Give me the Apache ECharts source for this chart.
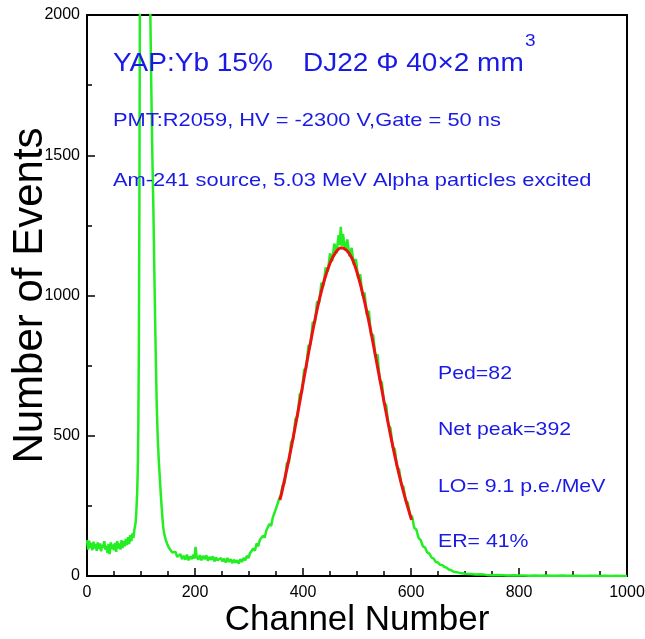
<!DOCTYPE html>
<html><head><meta charset="utf-8">
<script src="https://cdn.jsdelivr.net/npm/echarts@6/dist/echarts.min.js"></script>
<style>html,body{margin:0;padding:0;background:#fff}#c{width:645px;height:639px}</style>
</head><body><div id="c"></div>
<script>
// ---- data ----
const xTicks = [0, 200, 400, 600, 800, 1000];
const yTicks = [0, 500, 1000, 1500, 2000];

// measured spectrum: [channel, events]
const spectrum = [
[0,128],[2,94],[4,126],[6,100],[8,118],[10,92],[12,122],[14,98],[16,114],[18,90],[20,120],[22,96],[24,116],[26,88],[28,112],[30,100],[32,124],[34,94],[36,108],[38,82],[40,114],[42,78],[44,120],[46,96],[48,112],[50,92],[52,118],[54,86],[56,124],[58,98],[60,116],[62,94],[64,128],[66,100],[68,124],[70,106],[72,132],[74,110],[76,138],[78,114],[80,146],[82,124],[84,152],[86,136],[88,168],[90,190],[91,215],[93,300],[94,380],[95,520],[96,800],[97,1300],[98,2100],[100,2900],[105,3400],[110,3300],[115,2500],[117,2050],[119,1750],[121,1500],[123,1300],[125,1050],[127,820],[129,620],[131,490],[133,410],[135,345],[137,280],[139,225],[141,176],[143,150],[146,128],[149,112],[152,100],[155,92],[158,84],[161,78],[164,86],[167,68],[170,66],[173,78],[176,60],[179,72],[182,58],[185,76],[188,56],[191,70],[194,60],[197,76],[199,62],[201,104],[203,70],[206,58],[209,74],[212,56],[215,72],[218,60],[221,74],[224,54],[227,68],[230,58],[233,70],[236,52],[239,66],[242,56],[245,50],[248,64],[251,52],[254,62],[257,48],[260,64],[263,50],[266,60],[269,46],[272,58],[275,48],[278,56],[281,44],[284,60],[287,50],[290,64],[293,56],[296,72],[299,64],[302,82],[305,76],[308,98],[311,90],[314,116],[317,106],[320,128],[323,122],[326,144],[329,136],[332,162],[335,164],[338,186],[341,178],[344,208],[347,206],[350,240],[353,246],[356,276],[359,288],
[362,322],[366,332],[370,402],[374,405],[378,478],[382,488],[386,560],[390,570],[394,648],[398,655],[402,735],[406,742],[410,820],[414,826],[418,905],[422,902],[426,978],[430,975],[434,1045],[438,1036],[442,1100],[446,1085],[450,1150],[454,1122],[458,1185],[462,1150],[466,1215],[468,1180],[470,1245],[472,1175],[474,1220],[478,1160],[482,1200],[486,1140],[490,1170],[494,1110],[498,1130],[502,1062],[506,1075],[510,1000],[514,1010],[518,932],[522,945],[526,858],[530,860],[534,780],[538,790],[542,700],[546,690],[550,618],[554,610],[558,538],[562,528],[566,460],[570,452],[574,390],[578,380],[582,326],[586,318],[590,268],[594,262],[598,218],[602,212],[606,172],[610,165],[614,136],[618,128],[622,106],[626,102],[630,84],[634,80],[638,66],[642,62],[646,50],[650,48],[654,40],[658,39],[662,32],[666,30],[670,23],[674,21],[678,16],[682,14],[686,13],[690,11],[695,10],[700,8],
[710,7],[720,5],[730,6],[740,4],[750,3],[760,4],[770,3],[780,2],[790,3],[800,2],[810,2],[820,1],[830,2],[840,1],[850,2],[860,1],[870,1],[880,2],[890,1],[900,1],[910,1],[920,0],[930,1],[940,1],[950,0],[960,1],[970,0],[980,1],[990,0],[1000,0]
];

// gaussian fit: [channel, events]
const fitCurve = [
[357,271],[360,292],[370,380],[380,475],[390,578],[400,685],[410,792],[420,893],[430,983],[440,1058],[450,1115],[460,1152],[470,1169],[480,1163],[490,1135],[500,1083],[510,1011],[520,925],[530,828],[540,725],[550,622],[560,522],[570,429],[580,345],[590,272],[601,200]
];

const titleParts = ['YAP:Yb 15%', 'DJ22 \u03A6 40\u00D72 mm', '3'];
const infoLines = ['PMT:R2059, HV = -2300 V,Gate = 50 ns', 'Am-241 source, 5.03 MeV Alpha particles excited'];
const resultLines = ['Ped=82', 'Net peak=392', 'LO= 9.1 p.e./MeV', 'ER= 41%'];

// ---- chart ----
const FONT = '"Liberation Sans", Arial, Helvetica, sans-serif';
const BLUE = '#1a1ae6';
const chart = echarts.init(document.getElementById('c'), null, {renderer: 'canvas'});

function txt(text, x, y, size, sx) {
  return {type: 'text', x: x, y: y, scaleX: sx, z: 100,
    style: {text: text, fill: BLUE, fontSize: size, fontFamily: FONT, align: 'left', verticalAlign: 'middle'}};
}
const graphics = [
  txt(titleParts[0], 113, 64.3, 25, 1.12),
  txt(titleParts[1], 303, 64.3, 25, 1.12),
  txt(titleParts[2], 525, 41.8, 17, 1.12),
  txt(infoLines[0], 113, 120.4, 19, 1.15),
  txt(infoLines[1], 113, 180.4, 19, 1.15)
];
const resY = [373.4, 429.4, 486.4, 541.4];
resultLines.forEach((t, i) => graphics.push(txt(t, 438, resY[i], 19, 1.12)));

const plain = v => String(v);

chart.setOption({
  animation: false,
  backgroundColor: '#fff',
  grid: {left: 87, right: 18, top: 15, bottom: 63, containLabel: false, outerBoundsMode: 'none',
         show: true, borderColor: '#000', borderWidth: 2, backgroundColor: 'transparent'},
  xAxis: {
    type: 'value', min: xTicks[0], max: xTicks[xTicks.length - 1], interval: xTicks[1] - xTicks[0],
    name: 'Channel Number', nameLocation: 'middle', nameGap: 27, nameMoveOverlap: false,
    nameTextStyle: {fontSize: 35, color: '#000', fontFamily: FONT},
    axisLine: {show: true, onZero: false, lineStyle: {color: '#000', width: 2}},
    axisTick: {show: true, inside: true, length: 8, lineStyle: {color: '#000', width: 1.5}},
    minorTick: {show: true, splitNumber: 4, length: 5, lineStyle: {color: '#000', width: 1.5}},
    axisLabel: {fontSize: 16, color: '#000', fontFamily: FONT, margin: 9, formatter: plain},
    splitLine: {show: false}
  },
  yAxis: {
    type: 'value', min: yTicks[0], max: yTicks[yTicks.length - 1], interval: yTicks[1] - yTicks[0],
    name: 'Number of Events', nameLocation: 'middle', nameGap: 36, nameMoveOverlap: false,
    nameTextStyle: {fontSize: 42, color: '#000', fontFamily: FONT},
    axisLine: {show: true, onZero: false, lineStyle: {color: '#000', width: 2}},
    axisTick: {show: true, inside: true, length: 8, lineStyle: {color: '#000', width: 1.5}},
    minorTick: {show: true, splitNumber: 2, length: 5, lineStyle: {color: '#000', width: 1.5}},
    axisLabel: {fontSize: 16, color: '#000', fontFamily: FONT, margin: 7, formatter: plain},
    splitLine: {show: false}
  },
  series: [
    {type: 'line', data: spectrum, showSymbol: false, symbol: 'none', clip: true,
     lineStyle: {color: '#22ee22', width: 2.5}, z: 2},
    {type: 'line', data: fitCurve, showSymbol: false, symbol: 'none', smooth: 0.3, clip: true,
     lineStyle: {color: '#ee1111', width: 3}, z: 3}
  ],
  graphic: graphics
});
</script>
</body></html>
